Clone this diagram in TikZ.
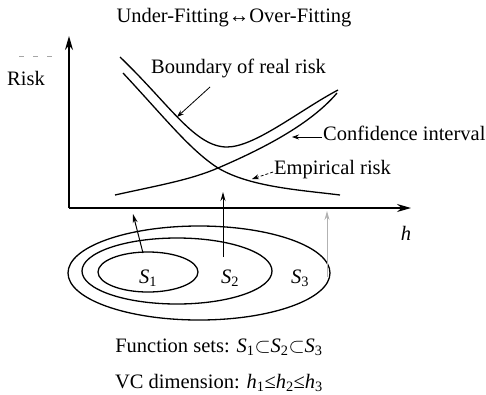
\documentclass[tikz,border=0pt]{standalone}
\usepackage{fontspec}
\setmainfont{Liberation Serif}
\usetikzlibrary{arrows.meta}
\begin{document}
\begin{tikzpicture}[x=1pt,y=-1pt,
  lbl/.style={inner sep=0pt,font=\fontsize{20.5}{24}\selectfont},
  curve/.style={line width=1.3pt},
  axis/.style={line width=1.4pt,-{Stealth[length=14pt,width=8pt]}},
  ptr/.style={line width=0.8pt,-{Stealth[length=7pt,width=5pt]}},
  setarrow/.style={line width=1pt,-{Stealth[length=9pt,width=5pt]}},
  setring/.style={line width=1.3pt}]
\useasboundingbox (0,0) rectangle (486,394);
% axes
\coordinate (O) at (69,208);
\coordinate (Ytip) at (69,36);
\coordinate (Xtip) at (411,208);
\draw[axis] (O) -- (Ytip);
\draw[axis] (O) -- (Xtip);
\draw[gray!70,line width=0.8pt,dash pattern=on 5pt off 9pt] (19,56) -- (57,56);
% texts
\node[lbl] (title) at (234,18) {Under-Fitting↔Over-Fitting};
\node[lbl] (risk) at (26,78) {Risk};
\node[lbl] (h) at (406,233) {\textit{h}};
% curves
\draw[curve] (120,57) .. controls (170,105) and (195,147) .. (227,147)
  .. controls (255,147) and (300,110) .. (338,90);
\draw[curve] (123,73) .. controls (165,118) and (190,150) .. (218,168)
  .. controls (250,187) and (300,190) .. (340,195);
\draw[curve] (115,195) .. controls (160,185) and (190,180) .. (218,168)
  .. controls (260,150) and (310,125) .. (337,93);
% labels with pointers
\node[lbl,anchor=west] (bound) at (151,68) {Boundary of real risk};
\node[lbl,anchor=west] (conf) at (323,133) {Confidence interval};
\node[lbl,anchor=west] (emp) at (274,170) {Empirical risk};
\coordinate (bfrom) at (210,87);
\coordinate (bto) at (177,117);
\draw[ptr] (bfrom) -- (bto);
\coordinate (cfrom) at (322,137);
\coordinate (cto) at (292,137);
\draw[ptr] (cfrom) -- (cto);
\coordinate (efrom) at (273,172);
\coordinate (eto) at (252,179);
\draw[ptr,dash pattern=on 3pt off 2pt] (efrom) -- (eto);
% nested sets
\draw[setring] (199,273) ellipse [x radius=131, y radius=47];
\draw[setring] (177,271) ellipse [x radius=95, y radius=33];
\draw[setring] (148,272) ellipse [x radius=50, y radius=20];
\node[lbl] (s1) at (148,278) {\textit{S}\textsubscript{1}};
\node[lbl] (s2) at (230,278) {\textit{S}\textsubscript{2}};
\node[lbl] (s3) at (300,278) {\textit{S}\textsubscript{3}};
% arrows from sets
\coordinate (a1from) at (143,253);
\coordinate (a1to) at (133,214);
\draw[setarrow] (a1from) -- (a1to);
\coordinate (a2from) at (223,257);
\coordinate (a2to) at (223,192);
\draw[setarrow] (a2from) -- (a2to);
\coordinate (a3from) at (327,277);
\coordinate (a3to) at (327,211);
\draw[setarrow,gray!60] (a3from) -- (a3to);
% captions
\node[lbl] (fs) at (219,347) {Function sets: \textit{S}\textsubscript{1}$\subset$\textit{S}\textsubscript{2}$\subset$\textit{S}\textsubscript{3}};
\node[lbl] (vc) at (219,383) {VC dimension: \textit{h}\textsubscript{1}≤\textit{h}\textsubscript{2}≤\textit{h}\textsubscript{3}};
\end{tikzpicture}
\end{document}
